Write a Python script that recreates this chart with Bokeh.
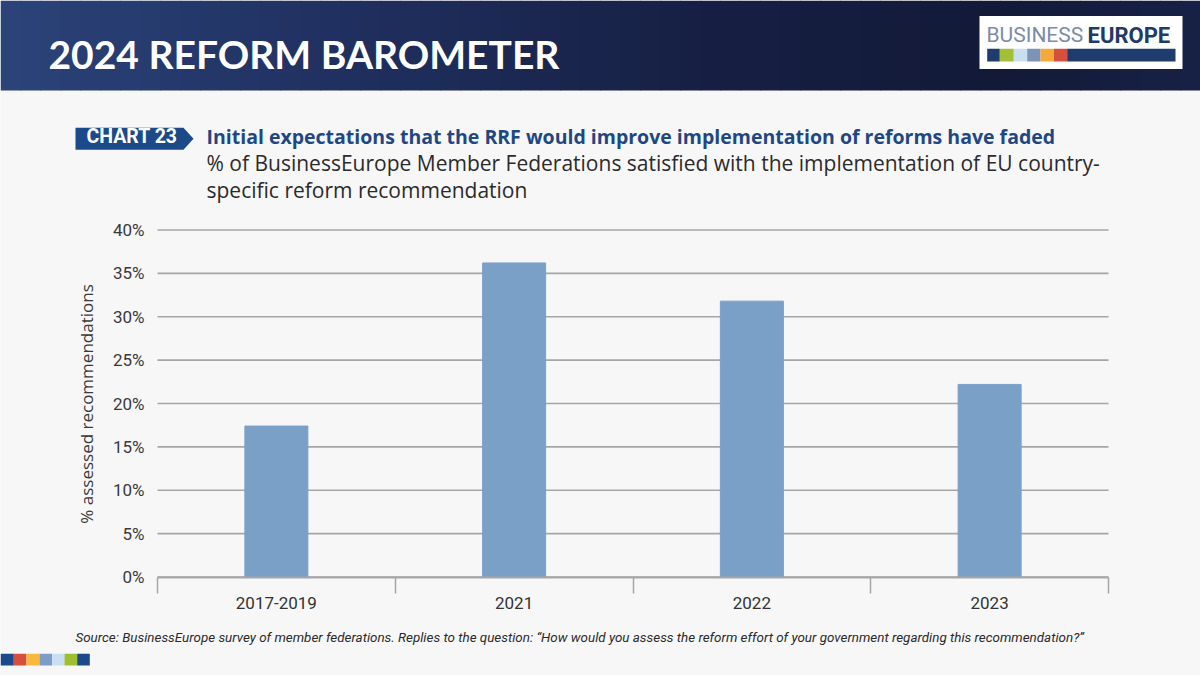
import numpy as np
from bokeh.plotting import figure
from bokeh.models import (Range1d, FixedTicker, NumeralTickFormatter, Label, LinearAxis)
from bokeh.embed import file_html
from bokeh.resources import INLINE

# ---------------- data ----------------
categories = ["2017-2019", "2021", "2022", "2023"]
satisfied_share = [0.174, 0.362, 0.318, 0.222]
y_ticks = [0.0, 0.05, 0.10, 0.15, 0.20, 0.25, 0.30, 0.35, 0.40]

header_title = "2024 REFORM BAROMETER"
chart_badge = "CHART 23"
chart_title = "Initial expectations that the RRF would improve implementation of reforms have faded"
subtitle_lines = ["% of BusinessEurope Member Federations satisfied with the implementation of EU country-",
                  "specific reform recommendation"]
y_label = "% assessed recommendations"
source_text = ("Source: BusinessEurope survey of member federations. Replies to the question: "
               "\u201cHow would you assess the reform effort of your government regarding this recommendation?\u201d")

BG = "#f7f7f7"
NAVY = "#1b4a8a"
BAR = "#7aa0c8"
GRID = "#a6a6a6"
W, H = 1200, 675

# plot-area placement (pixels)
FX0, FX1 = 157, 1108      # left / right of the bar area
FY0, FY1 = 576.5, 229.5   # pixel rows of 0 % and 40 %
y_min, y_max = 0.0, 0.40
n = len(categories)

y_span = (y_max - y_min) * H / (FY0 - FY1)
y_start = y_min - (H - FY0) * y_span / H
x_span = n * W / (FX1 - FX0)
x_start = -FX0 * x_span / W

p = figure(width=W, height=H, x_range=Range1d(0, W), y_range=Range1d(H, 0),
           output_backend="svg", toolbar_location=None, min_border=0,
           x_axis_location=None, y_axis_location=None)
p.grid.visible = False
p.outline_line_color = None
p.background_fill_color = BG
p.border_fill_color = BG
p.extra_x_ranges = {"cat": Range1d(x_start, x_start + x_span)}
p.extra_y_ranges = {"pct": Range1d(y_start, y_start + y_span)}

# ---------------- header ----------------
stops_x = [0, 300, 700, 1000, 1200]
stops_c = [(0x2c, 0x44, 0x7a), (0x21, 0x32, 0x63), (0x17, 0x20, 0x44), (0x13, 0x1a, 0x38), (0x18, 0x22, 0x46)]
xs = np.linspace(0, W, 61)
for i in range(len(xs) - 1):
    xm = (xs[i] + xs[i + 1]) / 2
    rgb = [int(np.interp(xm, stops_x, [c[k] for c in stops_c])) for k in range(3)]
    p.quad(left=xs[i], right=xs[i + 1] + 0.6, top=0, bottom=90,
           fill_color="#%02x%02x%02x" % tuple(rgb), line_color=None)

p.add_layout(Label(x=48, y=53, text=header_title, text_font="Lato", text_font_style="bold",
                   text_font_size="39px", text_color="white", text_baseline="alphabetic"))

# logo
p.quad(left=979, right=1182, top=15.5, bottom=68.5, fill_color="white", line_color=None)
p.add_layout(Label(x=986, y=34.7, text="BUSINESS", text_font="Roboto", text_font_size="21px",
                   text_color="#7c8ba8", text_baseline="alphabetic"))
p.add_layout(Label(x=1087, y=34.7, text="EUROPE", text_font="Roboto", text_font_size="22px",
                   text_font_style="bold", text_color="#1e3a68", text_baseline="alphabetic"))
logo_colors = ["#1e3d6e", "#a2c037", "#c9dff0", "#7d93b8", "#f5a83c", "#d4503c", "#1e3d6e"]
logo_edges = [986.7, 999.3, 1013.3, 1026.7, 1040, 1053.3, 1066.7, 1175]
p.quad(left=logo_edges[:-1], right=logo_edges[1:], top=48.3, bottom=61,
       fill_color=logo_colors, line_color=None)

# chart badge + titles
p.patch([75, 183, 193, 183, 75], [127.3, 127.3, 138.3, 149.3, 149.3], fill_color=NAVY, line_color=None)
p.add_layout(Label(x=86, y=136, text=chart_badge, text_font="Roboto", text_font_style="bold",
                   text_font_size="19.5px", text_color="white", text_baseline="alphabetic"))
p.add_layout(Label(x=206, y=136, text=chart_title, text_font="Open Sans", text_font_style="bold",
                   text_font_size="19.5px", text_color="#1f4784", text_baseline="alphabetic"))
for i, line in enumerate(subtitle_lines):
    p.add_layout(Label(x=206, y=162 + 27 * i, text=line, text_font="Open Sans",
                       text_font_size="21px", text_color="#2b2b2b", text_baseline="alphabetic"))

# ---------------- chart ----------------
centers = [i + 0.5 for i in range(n)]
p.segment(x0=0, x1=n, y0=y_ticks, y1=y_ticks, line_color=GRID, line_width=1.6,
          x_range_name="cat", y_range_name="pct")
p.vbar(x=centers, top=satisfied_share, width=0.265, bottom=0, fill_color=BAR, line_color=BAR,
       x_range_name="cat", y_range_name="pct")

xax = LinearAxis(x_range_name="cat", y_range_name="pct", fixed_location=0, bounds=(0, n),
                 ticker=FixedTicker(ticks=centers, minor_ticks=list(range(n + 1))))
xax.major_label_overrides = {c: lab for c, lab in zip(centers, categories)}
xax.major_tick_line_color = None
xax.minor_tick_out = 16
xax.minor_tick_in = 0
xax.minor_tick_line_color = GRID
xax.minor_tick_line_width = 1.5
xax.axis_line_color = GRID
xax.axis_line_width = 2
xax.major_label_standoff = 4
xax.major_label_text_font = "Roboto"
xax.major_label_text_font_size = "17px"
xax.major_label_text_color = "#333333"
p.add_layout(xax, "below")

yax = LinearAxis(y_range_name="pct", fixed_location=FX0, bounds=(y_min, y_max),
                 ticker=FixedTicker(ticks=y_ticks), formatter=NumeralTickFormatter(format="0%"))
yax.axis_line_color = None
yax.major_tick_line_color = None
yax.minor_tick_line_color = None
yax.major_label_standoff = 7
yax.major_label_text_font = "Roboto"
yax.major_label_text_font_size = "17px"
yax.major_label_text_color = "#3a3a3a"
yax.axis_label = y_label
yax.axis_label_text_font = "Open Sans"
yax.axis_label_text_font_style = "normal"
yax.axis_label_text_font_size = "17px"
yax.axis_label_text_color = "#3a3a3a"
yax.axis_label_standoff = 12
p.add_layout(yax, "left")

# ---------------- source + squares ----------------
p.add_layout(Label(x=75, y=637, text=source_text, text_font="Roboto", text_font_style="italic",
                   text_font_size="13.4px", text_color="#2b2b2b", text_baseline="alphabetic"))
sq_colors = ["#1b4a8a", "#d4503c", "#f7b840", "#7d9cc8", "#c9e0f4", "#9fbf2f", "#1b4a8a"]
sq_edges = [0, 13.3, 26, 39, 51.7, 64, 76.7, 89.3]
p.quad(left=sq_edges[:-1], right=sq_edges[1:], top=653.3, bottom=665,
       fill_color=sq_colors, line_color=None)

open("out.html", "w").write(file_html(p, INLINE))
